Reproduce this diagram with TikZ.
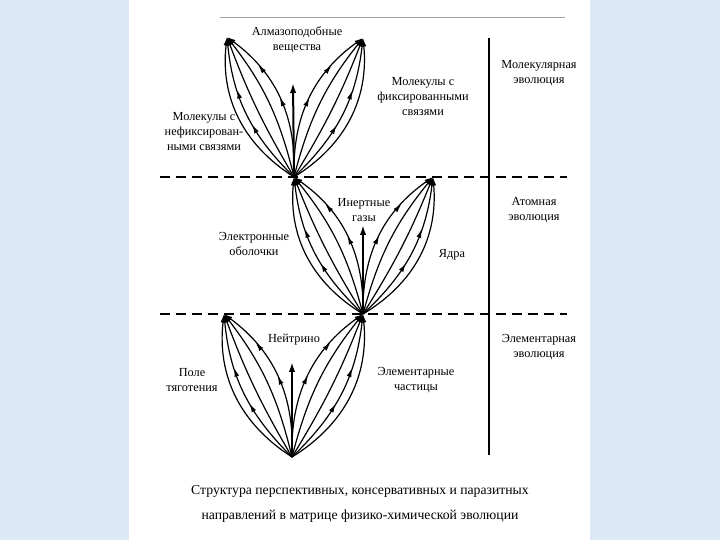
\documentclass[tikz,border=0pt]{standalone}
\usepackage{fontspec}
\setmainfont{Liberation Serif}
\usetikzlibrary{arrows.meta,decorations.markings}
\definecolor{paper}{RGB}{220,232,246}
\tikzset{
  fanhead/.tip={Latex[length=8.5pt,width=5pt]},
  ray/.style={line width=1.2pt,-fanhead},
  twomarks/.style 2 args={postaction={decorate,decoration={markings,
      mark=at position #1 with {\arrow{fanhead}},
      mark=at position #2 with {\arrow{fanhead}}}}},
  stem/.style={line width=2pt,-{Latex[length=10pt,width=6.5pt]}},
  level/.style={line width=1.6pt,dash pattern=on 10pt off 6pt},
  lbl/.style={align=center,font=\fontsize{12.3}{15}\selectfont,inner sep=0pt},
}
\begin{document}
\begin{tikzpicture}[x=1pt,y=1pt]
  \useasboundingbox (0,0) rectangle (720,540);
  \fill[paper] (0,0) rectangle (720,540);
  \fill[white] (129,0) rectangle (590,540);
  \draw[gray!70,line width=.6pt] (220,523) -- (565,523);
  \draw[level] (160,363) -- (567,363);
  \draw[level] (160,226) -- (567,226);
  \draw[line width=1.8pt] (489,502) -- (489,85);
  \coordinate (o1) at (294,363);
  \coordinate (l1) at (227,503);
  \coordinate (r1) at (363,502);
  \coordinate (c1) at (293,457);
  \coordinate (o2) at (363,226);
  \coordinate (l2) at (294,363);
  \coordinate (r2) at (433,363);
  \coordinate (c2) at (363,315);
  \coordinate (o3) at (292,83);
  \coordinate (l3) at (224,226);
  \coordinate (r3) at (363,226);
  \coordinate (c3) at (292,178);
  \foreach \o/\l/\r/\c in {o1/l1/r1/c1,o2/l2/r2/c2,o3/l3/r3/c3}{
    \draw[ray] (\o) to[bend left=32] (\l);
    \draw[ray,twomarks={.42}{.66}] (\o) to[bend left=20] (\l);
    \draw[ray] (\o) to[bend left=5] (\l);
    \draw[ray] (\o) to[bend right=12] (\l);
    \draw[ray,twomarks={.5}{.74}] (\o) to[bend right=28] (\l);
    \draw[ray] (\o) to[bend right=32] (\r);
    \draw[ray,twomarks={.42}{.66}] (\o) to[bend right=20] (\r);
    \draw[ray] (\o) to[bend right=5] (\r);
    \draw[ray] (\o) to[bend left=12] (\r);
    \draw[ray,twomarks={.5}{.74}] (\o) to[bend left=28] (\r);
    \draw[stem] (\o) -- (\c);
  }
  \node[lbl] (diamond) at (297,500) {Алмазоподобные\\вещества};
  \node[lbl] (loose) at (204,408) {Молекулы с\\нефиксирован-\\ными связями};
  \node[lbl] (fixed) at (423,443) {Молекулы с\\фиксированными\\связями};
  \node[lbl] (molev) at (539,467) {Молекулярная\\эволюция};
  \node[lbl] (inert) at (364,330) {Инертные\\газы};
  \node[lbl] (shells) at (254,296) {Электронные\\оболочки};
  \node[lbl] (nuclei) at (452,285) {Ядра};
  \node[lbl] (atomev) at (534,330) {Атомная\\эволюция};
  \node[lbl] (neutrino) at (294,200) {Нейтрино};
  \node[lbl] (gravity) at (192,160) {Поле\\тяготения};
  \node[lbl] (particles) at (416,160) {Элементарные\\частицы};
  \node[lbl] (elemev) at (539,193) {Элементарная\\эволюция};
  \node[align=center,font=\fontsize{13.7}{25}\selectfont,inner sep=0pt] (caption) at (360,36)
    {Структура перспективных, консервативных и паразитных\\направлений в матрице физико-химической эволюции};
\end{tikzpicture}
\end{document}
